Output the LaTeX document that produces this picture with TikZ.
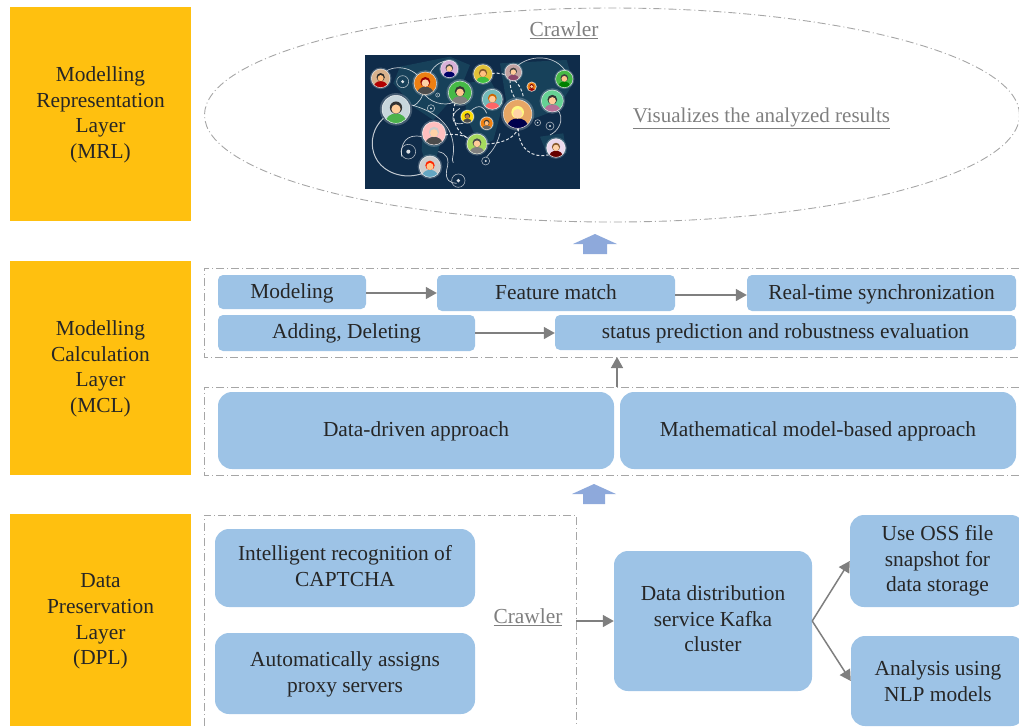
\documentclass[tikz,border=0pt]{standalone}
\usepackage{fontspec}
\setmainfont{Liberation Serif}
\usetikzlibrary{shapes.geometric,arrows.meta}
\definecolor{layer}{HTML}{FFC00F}
\definecolor{bluebox}{HTML}{9DC3E6}
\definecolor{blockblue}{HTML}{8EA9DB}
\definecolor{linegray}{HTML}{7F7F7F}
\definecolor{dashgray}{HTML}{A6A6A6}
\definecolor{ink}{HTML}{262626}
\definecolor{night}{HTML}{0F2C4A}
\definecolor{land}{HTML}{17415A}
\tikzset{
  txt/.style={font=\fontsize{21.4}{25.6}\selectfont,text=ink,align=center,inner sep=0pt},
  layerbox/.style={fill=layer,draw=none,inner sep=0pt},
  bbig/.style={fill=bluebox,draw=none,rounded corners=14pt,inner sep=0pt},
  bsmall/.style={fill=bluebox,draw=none,rounded corners=5pt,inner sep=0pt},
  under/.style={txt,text=linegray},
  dashline/.style={draw=dashgray,line width=0.9pt,dash pattern=on 8pt off 3pt on 1pt off 3pt},
  conn/.style={draw=linegray,line width=1.5pt,-{Triangle[length=11pt,width=12pt]}},
  blockarrow/.style={fill=blockblue,draw=none},
  pic line/.style={draw=white,opacity=.75,line width=.7pt},
  pic dash/.style={draw=white,opacity=.85,line width=1pt,densely dashed},
}
% [text shift up] name x1 y1 x2 y2 style text
\newcommand{\bx}[8][0]{\node[#7,minimum width={(#5-#3)*1pt},minimum height={(#6-#4)*1pt},label={[txt,yshift=#1pt]center:{#8}}] (#2) at ({(#3+#5)/2},{(#4+#6)/2}) {};}
\newcommand{\face}[7]{%
  \fill[white,opacity=.22] (#1,#2) circle [radius={#3*1.16}];
  \begin{scope}
    \clip (#1,#2) circle [radius=#3];
    \fill[#4] (#1,#2) circle [radius=#3];
    \fill[#7] ({#1},{#2+0.88*#3}) ellipse [x radius={0.72*#3},y radius={0.58*#3}];
    \fill[#6] ({#1},{#2-0.12*#3}) circle [radius={0.44*#3}];
    \fill[#5] ({#1},{#2-0.02*#3}) circle [radius={0.33*#3}];
  \end{scope}
  \draw[white,line width=.5pt,opacity=.8] (#1,#2) circle [radius=#3];
}
\newcommand{\target}[3]{%
  \draw[white,opacity=.65,line width=.6pt] (#1,#2) circle [radius=#3];
  \fill[white,opacity=.85] (#1,#2) circle [radius={#3*.28}];
}
\begin{document}
\begin{tikzpicture}[x=1pt,y=-1pt]
\useasboundingbox (0,0) rectangle (1019,726);
% layers
\bx[-1]{mrl}{10}{7}{191}{221}{layerbox}{Modelling\\Representation\\Layer\\(MRL)}
\bx[-1]{mcl}{10}{261}{191}{475}{layerbox}{Modelling\\Calculation\\Layer\\(MCL)}
\bx[-1.5]{dpl}{10}{514}{191}{726}{layerbox}{Data\\Preservation\\Layer\\(DPL)}
% top ellipse
\node[ellipse,dashline,minimum width=815pt,minimum height=214pt,inner sep=0pt] (crawlarea) at (612,115) {};
\node[under] (crawltop) at (564,30) {\underline{Crawler}};
\node[under,font=\fontsize{21}{25.6}\selectfont] (vis) at (761.5,118) {\underline{Visualizes the analyzed results}};
% picture
\node[fill=night,minimum width=215pt,minimum height=134pt,inner sep=0pt] (netpic) at (472.5,122) {};
\begin{scope}
\clip (365,55) rectangle (580,189);
\begin{scope}[shift={(350,40)},x=0.3333pt,y=-0.3333pt]
  \fill[land] (150,80) -- (300,50) -- (360,75) -- (330,150) -- (250,240) -- (190,200) -- (130,130) -- cycle;
  \fill[land] (220,260) -- (280,270) -- (260,350) -- (235,400) -- (215,330) -- cycle;
  \fill[land] (340,130) -- (420,120) -- (460,190) -- (430,300) -- (390,320) -- (350,230) -- cycle;
  \fill[land] (450,70) -- (650,60) -- (670,130) -- (620,210) -- (540,240) -- (470,190) -- cycle;
  \fill[land] (570,290) -- (640,280) -- (650,340) -- (590,340) -- cycle;
  % large arcs
  \draw[pic line,line width=1pt] (100,235) .. controls (40,290) and (60,400) .. (170,408) .. controls (200,408) and (225,400) .. (240,390);
  \draw[pic line] (185,195) .. controls (240,210) and (290,240) .. (305,290) .. controls (320,340) and (300,360) .. (310,368);
  \draw[pic line] (110,92) .. controls (150,70) and (215,90) .. (220,145) .. controls (222,170) and (205,190) .. (190,198);
  \draw[pic line] (225,165) .. controls (250,195) and (300,200) .. (320,180);
  \draw[pic line] (240,100) .. controls (255,70) and (280,62) .. (300,62);
  \draw[pic line] (490,90) .. controls (530,40) and (620,40) .. (650,100);
  \draw[pic line] (590,205) .. controls (640,190) and (650,260) .. (600,285);
  \draw[pic line] (215,290) .. controls (170,280) and (150,310) .. (155,350);
  \draw[pic line] (265,335) .. controls (290,340) and (300,355) .. (290,390) .. controls (285,420) and (300,430) .. (320,430);
  \draw[pic line] (350,225) .. controls (380,190) and (400,195) .. (410,220);
  \draw[pic line] (340,250) .. controls (300,260) and (300,220) .. (330,205);
  \draw[pic line] (450,280) .. controls (440,320) and (420,340) .. (410,350);
  \draw[pic dash] (425,100) .. controls (470,95) and (510,120) .. (520,170);
  \draw[pic dash] (315,190) .. controls (300,230) and (320,280) .. (355,295);
  \draw[pic dash] (285,285) .. controls (310,280) and (340,285) .. (355,295);
  \draw[pic dash] (410,312) .. controls (450,310) and (490,300) .. (505,265);
  \draw[pic dash] (505,265) .. controls (505,330) and (550,355) .. (595,345);
  \draw[pic dash] (480,120) .. controls (480,150) and (490,170) .. (500,180);
  \target{158}{125}{18}
  \target{243}{205}{11}
  \target{175}{335}{22}
  \target{325}{422}{20}
  \target{407}{363}{12}
  \target{563}{248}{9}
  \target{600}{258}{12}
  \target{263}{165}{6}
  \face{92}{115}{28}{brown!60!white}{orange!50!white}{black!85}{red!70!black}
  \face{138}{208}{42}{cyan!25!gray!40!white}{orange!40!white}{black!80}{green!40!gray}
  \face{226}{130}{34}{orange!70!brown}{orange!35!white}{red!60!black}{black!70}
  \face{298}{87}{26}{violet!30!white}{orange!40!white}{black!70}{blue!40!black}
  \face{330}{158}{35}{green!45!gray}{orange!45!white}{black!80}{gray}
  \face{399}{102}{28}{yellow!50!brown}{orange!50!white}{brown!70!black}{green!50!gray}
  \face{427}{178}{30}{teal!55!white}{orange!40!white}{orange!80!black}{red!60!white}
  \face{352}{230}{19}{yellow!80!orange}{brown}{black!80}{black!70}
  \face{410}{250}{19}{orange!75!brown}{orange!50!white}{black!80}{black!60}
  \face{490}{97}{25}{red!20!gray!60!white}{orange!40!white}{black!75}{magenta!50!black}
  \face{545}{140}{14}{orange!70!brown}{orange!40!white}{red!50!black}{red!60!black}
  \face{643}{117}{26}{green!45!gray}{orange!45!white}{black!75}{green!50!black}
  \face{607}{183}{33}{teal!60!green!60!white}{orange!40!white}{black!80}{magenta!40!gray}
  \face{503}{222}{43}{orange!45!brown!70!white}{orange!35!white}{yellow!50!white}{blue!30!black}
  \face{252}{280}{35}{red!25!white}{orange!35!white}{gray!40!white}{black!70}
  \face{381}{312}{30}{yellow!50!green!70!white}{orange!40!white}{black!70}{gray}
  \face{240}{380}{32}{gray!40!white}{orange!45!white}{red!70!orange}{cyan!50!gray}
  \face{618}{324}{28}{violet!15!white}{orange!35!white}{brown!70!black}{red!40!black}
\end{scope}
\end{scope}
% block arrows
\coordinate (blockA) at (595,234);
\coordinate (blockB) at (594,484);
\fill[blockarrow] (blockA) -- ++(22,10) -- ++(-10,0) -- ++(0,10) -- ++(-24,0) -- ++(0,-10) -- ++(-10,0) -- cycle;
\fill[blockarrow] (blockB) -- ++(22,10) -- ++(-11,0) -- ++(0,10) -- ++(-22,0) -- ++(0,-10) -- ++(-11,0) -- cycle;
% dashed containers (open to the right)
\draw[dashline] (1019,268) -- (204,268) -- (204,357) -- (1019,357);
\draw[dashline] (1019,387) -- (204,387) -- (204,475) -- (1019,475);
\draw[dashline] (204,726) -- (204,515) -- (576,515) -- (576,726);
% MCL boxes
\bx[-1]{modeling}{218}{275}{366}{309}{bsmall}{Modeling}
\bx[1]{feature}{437}{275}{675}{311}{bsmall}{Feature match}
\bx[-1]{realtime}{747}{275}{1016}{311}{bsmall}{Real-time synchronization}
\bx{adding}{218}{315}{475}{351}{bsmall}{Adding, Deleting}
\bx[-1]{status}{555}{315}{1016}{350}{bsmall}{status prediction and robustness evaluation}
\bx[-1]{datadriven}{218}{392}{614}{469}{bbig}{Data-driven approach}
\bx[-1]{mathmodel}{620}{392}{1016}{469}{bbig}{Mathematical model-based approach}
% DPL boxes
\bx[2]{captcha}{215}{529}{475}{607}{bbig}{Intelligent recognition of\\CAPTCHA}
\bx[-1]{proxy}{215}{633}{475}{714}{bbig}{Automatically assigns\\proxy servers}
\node[under] (crawlmid) at (528,617.5) {\underline{Crawler}};
\bx[2]{kafka}{614}{551}{812}{691}{bbig}{Data distribution\\service Kafka\\cluster}
\bx{oss}{850}{515}{1025}{607}{bbig}{Use OSS file\\snapshot for\\data storage}
\bx{nlp}{851}{636}{1025}{726}{bbig}{Analysis using\\NLP models}
% connectors
\coordinate (upfrom) at (617,387);
\coordinate (upto) at (617,357);
\coordinate (crawlout) at (576,621);
\draw[conn] (modeling.east |- feature.west) -- (feature.west);
\draw[conn] ([yshift=-2pt]feature.east) -- ([yshift=-2pt]realtime.west);
\draw[conn] (adding.east) -- (adding.east -| status.west);
\draw[conn] (upfrom) -- (upto);
\draw[conn] (crawlout) -- (kafka.west);
\draw[conn] (kafka.east) -- (oss.west);
\draw[conn] (kafka.east) -- (nlp.west);
\end{tikzpicture}
\end{document}
